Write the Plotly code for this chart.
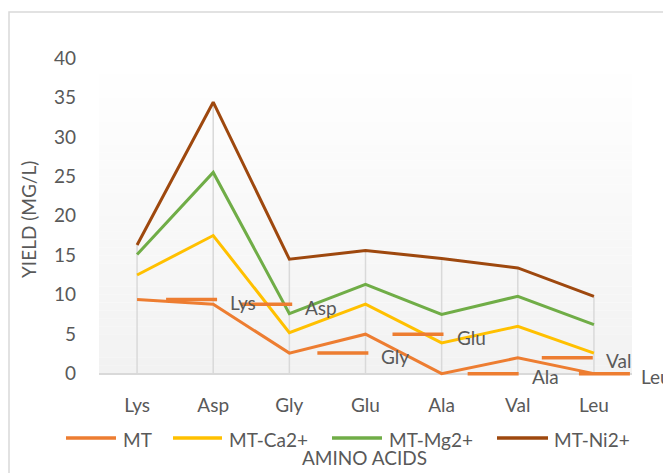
import plotly.graph_objects as go

# ---- data ----
categories = ["Lys", "Asp", "Gly", "Glu", "Ala", "Val", "Leu"]
series_names = ["MT", "MT-Ca2+", "MT-Mg2+", "MT-Ni2+"]
mt = [9.4, 8.8, 2.6, 5.0, 0.0, 2.0, 0.0]
mt_ca = [12.5, 17.5, 5.2, 8.8, 3.9, 6.0, 2.6]
mt_mg = [15.1, 25.5, 7.6, 11.3, 7.5, 9.8, 6.2]
mt_ni = [16.3, 34.4, 14.5, 15.6, 14.6, 13.4, 9.8]
y_ticks = [0, 5, 10, 15, 20, 25, 30, 35, 40]

# ---- styles / layout (page has an 8px body margin) ----
colors = ["#ED7D31", "#FFC000", "#70AD47", "#9E480E"]
txt = "#595959"
FONT = "Lato"
FS = 19
OFF = 8
W, H = 671 - OFF, 473 - OFF
# target screen positions of plot area: left 99, right 632, top 58, bottom 376
ML, MR, MT_, MB = 99 - OFF, 671 - 632, 58 - OFF, 473 - 376
PW = W - ML - MR
PH = H - MT_ - MB


def px_x(px):
    return (px - OFF - ML) / PW


def px_y(py):
    return (H - MB - (py - OFF)) / PH


all_series = [mt, mt_ca, mt_mg, mt_ni]

fig = go.Figure()

# drop lines (from 0 up to the highest series value)
dx, dy = [], []
for i, c in enumerate(categories):
    top = max(s[i] for s in all_series)
    dx += [c, c, None]
    dy += [0, top, None]
fig.add_trace(go.Scatter(x=dx, y=dy, mode="lines", line=dict(color="#D9D9D9", width=1.5),
                         hoverinfo="skip", showlegend=False))

for name, vals, col in zip(series_names, all_series, colors):
    fig.add_trace(go.Scatter(x=categories, y=vals, mode="lines", name=name,
                             line=dict(color=col, width=3), showlegend=False))

shapes = []
annotations = []

# plot-area gradient (white at top -> light grey at bottom)
n = 40
for k in range(n):
    t = (k + 0.5) / n
    v = int(round(255 - (255 - 242) * t))
    y1 = 40 - 40 * k / n
    y0 = 40 - 40 * (k + 1) / n
    shapes.append(dict(type="rect", xref="paper", yref="y", x0=0, x1=1, y0=y0, y1=y1,
                       fillcolor=f"rgb({v},{v},{v})", line=dict(width=0), layer="below"))

# chart border
shapes.append(dict(type="rect", xref="paper", yref="paper", x0=px_x(9), x1=1.3,
                   y0=-0.6, y1=px_y(12), line=dict(color="#D9D9D9", width=1.5),
                   fillcolor="rgba(0,0,0,0)", layer="below"))

# MT data labels with legend keys (category name)
key_dx = [29, 28, 28, 27, 26, 24, -15]
text_dx = [91, 90, 90, 89, 88, 86, 45]
for i, c in enumerate(categories):
    k0 = key_dx[i]
    shapes.append(dict(type="line", xref="x", yref="y", xsizemode="pixel", xanchor=c,
                       x0=k0, x1=k0 + 51, y0=mt[i], y1=mt[i],
                       line=dict(color=colors[0], width=3.5)))
    annotations.append(dict(x=c, y=mt[i], xref="x", yref="y", text=c, showarrow=False,
                            xanchor="left", yanchor="middle", xshift=text_dx[i], yshift=-3,
                            font=dict(family=FONT, size=FS, color=txt)))

# custom legend
leg_y = px_y(438)
leg_items = [(66, 116, 121), (173, 222, 227), (332, 382, 387), (497, 548, 552)]
for (k0, k1, tx), name, col in zip(leg_items, series_names, colors):
    shapes.append(dict(type="line", xref="paper", yref="paper", x0=px_x(k0), x1=px_x(k1),
                       y0=leg_y, y1=leg_y, line=dict(color=col, width=3.5)))
    annotations.append(dict(x=px_x(tx), y=leg_y, xref="paper", yref="paper", text=name,
                            showarrow=False, xanchor="left", yanchor="middle", yshift=-1,
                            font=dict(family=FONT, size=FS, color=txt)))

# axis titles
annotations.append(dict(x=px_x(364), y=px_y(457), xref="paper", yref="paper",
                        text="AMINO ACIDS", showarrow=False, xanchor="center", yanchor="middle",
                        font=dict(family=FONT, size=FS, color=txt)))
annotations.append(dict(x=px_x(28), y=px_y(220), xref="paper", yref="paper",
                        text="YIELD (MG/L)", showarrow=False, textangle=-90,
                        xanchor="center", yanchor="middle",
                        font=dict(family=FONT, size=FS, color=txt)))

fig.update_layout(
    width=W, height=H,
    margin=dict(l=ML, r=MR, t=MT_, b=MB),
    paper_bgcolor="white", plot_bgcolor="white",
    showlegend=False,
    shapes=shapes, annotations=annotations,
    font=dict(family=FONT, size=FS, color=txt),
)
fig.update_xaxes(type="category", categoryorder="array", categoryarray=categories,
                 range=[-0.5, len(categories) - 0.5], showgrid=False, showline=False,
                 zeroline=False, ticks="", ticklabelstandoff=16,
                 tickfont=dict(family=FONT, size=FS, color=txt))
fig.update_yaxes(range=[-0.3, 40], tickvals=y_ticks, showgrid=False, showline=False,
                 zeroline=True, zerolinecolor="#D9D9D9", zerolinewidth=1.5,
                 ticks="", ticklabelstandoff=22,
                 tickfont=dict(family=FONT, size=FS, color=txt))

fig.write_html("out.html")
